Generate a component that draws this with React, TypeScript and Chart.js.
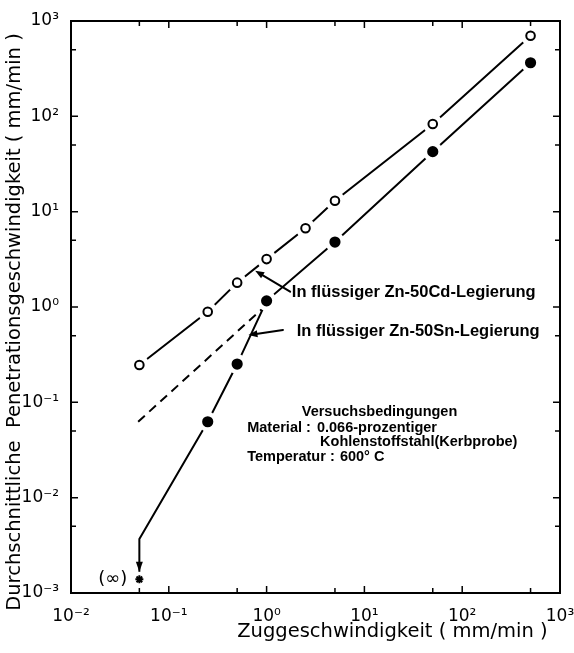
import React, { useEffect, useRef } from "react";
import { Chart, registerables } from "chart.js";

Chart.register(...registerables);

// ---------- axis ticks ----------
const xTickValues = [0.01, 0.05, 0.1, 0.5, 1, 5, 10, 50, 100, 500, 1000];
const xTickLabels = ["10⁻²", "", "10⁻¹", "", "10⁰", "", "10¹", "", "10²", "", "10³"];
const yTickValues = [0.001, 0.005, 0.01, 0.05, 0.1, 0.5, 1, 5, 10, 50, 100, 500, 1000];
const yTickLabels = ["10⁻³", "", "10⁻²", "", "10⁻¹", "", "10⁰", "", "10¹", "", "10²", "", "10³"];

// ---------- series ----------
// Zn-50Cd (open circles)
const cdSpeed = [0.05, 0.25, 0.5, 1, 2.5, 5, 50, 500];
const cdRate = [0.246, 0.89, 1.8, 3.18, 6.7, 13, 83, 700];
// Zn-50Sn (filled circles)
const snSpeed = [0.25, 0.5, 1, 5, 50, 500];
const snRate = [0.0626, 0.252, 1.16, 4.8, 42.6, 365];
// Sn curve tail going down to the (infinity) point: arrow end, kink
const snTailSpeed = [0.05, 0.05];
const snTailRate = [0.00167, 0.00368];
// dashed extrapolation of the Sn curve
const snExtrapSpeed = [0.0486, 0.92];
const snExtrapRate = [0.0626, 0.975];
// (infinity) point
const infSpeed = [0.05];
const infRate = [0.00139];

// ---------- annotations (data coordinates) ----------
const labelTexts = ["In flüssiger Zn-50Cd-Legierung", "In flüssiger Zn-50Sn-Legierung"];
const labelX = [1.81, 2.03];
const labelY = [1.41, 0.56];
const arrowFromX = [1.74, 1.47];
const arrowFromY = [1.45, 0.574];
const arrowToX = [0.764, 0.652];
const arrowToY = [2.4, 0.508];

const noteTexts = [
  "Versuchsbedingungen",
  "Material :",
  "0.066-prozentiger",
  "Kohlenstoffstahl(Kerbprobe)",
  "Temperatur :",
  "600° C",
];
const noteX = [2.29, 0.633, 3.27, 3.52, 0.633, 5.62];
const noteY = [0.0798, 0.0538, 0.0538, 0.0386, 0.0269, 0.0269];

const infText = "(∞)";
const infTextX = 0.0377;

const yTitle = "Durchschnittliche  Penetrationsgeschwindigkeit ( mm/min )";
const xTitle = "Zuggeschwindigkeit ( mm/min )  ";

const pts = (xs: number[], ys: number[]) => xs.map((x, i) => ({ x, y: ys[i] }));

function arrowHead(ctx: CanvasRenderingContext2D, x1: number, y1: number, x2: number, y2: number, len = 9, half = 3.5) {
  const a = Math.atan2(y2 - y1, x2 - x1);
  const bx = x2 - len * Math.cos(a);
  const by = y2 - len * Math.sin(a);
  ctx.beginPath();
  ctx.moveTo(x2, y2);
  ctx.lineTo(bx - half * Math.sin(a), by + half * Math.cos(a));
  ctx.lineTo(bx + half * Math.sin(a), by - half * Math.cos(a));
  ctx.closePath();
  ctx.fill();
}

const decorPlugin = {
  id: "decor",
  afterDatasetsDraw(chart: any) {
    const { ctx, scales } = chart;
    const sx = scales.x;
    const sy = scales.y;
    ctx.save();
    ctx.strokeStyle = "#000";
    ctx.fillStyle = "#000";
    ctx.lineWidth = 2;
    ctx.lineCap = "round";

    // label arrows
    for (let i = 0; i < arrowFromX.length; i++) {
      const x1 = sx.getPixelForValue(arrowFromX[i]);
      const y1 = sy.getPixelForValue(arrowFromY[i]);
      const x2 = sx.getPixelForValue(arrowToX[i]);
      const y2 = sy.getPixelForValue(arrowToY[i]);
      const a = Math.atan2(y2 - y1, x2 - x1);
      ctx.beginPath();
      ctx.moveTo(x1, y1);
      ctx.lineTo(x2 - 6 * Math.cos(a), y2 - 6 * Math.sin(a));
      ctx.stroke();
      arrowHead(ctx, x1, y1, x2, y2);
    }

    // downward arrow head of Sn tail
    {
      const x2 = sx.getPixelForValue(snTailSpeed[0]);
      const y2 = sy.getPixelForValue(snTailRate[0]);
      arrowHead(ctx, x2, y2 - 20, x2, y2, 10, 3.5);
    }

    // labels
    ctx.textBaseline = "middle";
    ctx.textAlign = "left";
    ctx.font = "bold 16.5px 'Liberation Sans', Arial, sans-serif";
    for (let i = 0; i < labelTexts.length; i++) {
      ctx.fillText(labelTexts[i], sx.getPixelForValue(labelX[i]), sy.getPixelForValue(labelY[i]));
    }
    ctx.font = "bold 14.5px 'Liberation Sans', Arial, sans-serif";
    for (let i = 0; i < noteTexts.length; i++) {
      ctx.fillText(noteTexts[i], sx.getPixelForValue(noteX[i]), sy.getPixelForValue(noteY[i]));
    }
    // (infinity)
    ctx.textAlign = "right";
    ctx.font = "18px 'DejaVu Sans', sans-serif";
    ctx.fillText(infText, sx.getPixelForValue(infTextX), sy.getPixelForValue(infRate[0]));
    ctx.restore();
  },
  afterDraw(chart: any) {
    const { ctx, chartArea: a, scales } = chart;
    const sx = scales.x;
    const sy = scales.y;
    ctx.save();
    ctx.strokeStyle = "#000";
    ctx.lineWidth = 2;
    ctx.strokeRect(a.left, a.top, a.right - a.left, a.bottom - a.top);
    ctx.lineWidth = 1.5;
    ctx.beginPath();
    xTickValues.forEach((v, i) => {
      if (i === 0 || i === xTickValues.length - 1) return;
      const L = xTickLabels[i] ? 7 : 5;
      const p = sx.getPixelForValue(v);
      ctx.moveTo(p, a.bottom);
      ctx.lineTo(p, a.bottom - L);
      ctx.moveTo(p, a.top);
      ctx.lineTo(p, a.top + L);
    });
    yTickValues.forEach((v, i) => {
      if (i === 0 || i === yTickValues.length - 1) return;
      const L = yTickLabels[i] ? 7 : 5;
      const p = sy.getPixelForValue(v);
      ctx.moveTo(a.left, p);
      ctx.lineTo(a.left + L, p);
      ctx.moveTo(a.right, p);
      ctx.lineTo(a.right - L, p);
    });
    ctx.stroke();

    // y axis title (rotated)
    ctx.fillStyle = "#000";
    ctx.font = "19.5px 'DejaVu Sans', sans-serif";
    ctx.textAlign = "center";
    ctx.textBaseline = "middle";
    ctx.translate(14.5, 322);
    ctx.rotate(-Math.PI / 2);
    ctx.fillText(yTitle, 0, 0);
    ctx.restore();
  },
};

export default function App() {
  const ref = useRef<HTMLCanvasElement>(null);
  useEffect(() => {
    document.body.style.margin = "0";
    const canvas = ref.current!;
    const tickFont = { family: "'DejaVu Sans', sans-serif", size: 17 };
    const chart = new Chart(canvas, {
      type: "line",
      data: {
        datasets: [
          {
            label: "Zn-50Cd",
            data: pts(cdSpeed, cdRate),
            showLine: false,
            pointRadius: 4.3,
            pointBorderWidth: 2,
            pointBackgroundColor: "#fff",
            pointBorderColor: "#000",
          },
          {
            label: "Zn-50Sn",
            data: pts(snSpeed, snRate),
            showLine: false,
            pointRadius: 4.6,
            pointBorderWidth: 2,
            pointBackgroundColor: "#000",
            pointBorderColor: "#000",
          },
          {
            label: "infinity",
            data: pts(infSpeed, infRate),
            showLine: false,
            pointStyle: "star",
            pointRadius: 4,
            pointBorderWidth: 2,
            pointBorderColor: "#000",
          },
          {
            label: "halo",
            data: [...pts(cdSpeed, cdRate), ...pts(snSpeed, snRate)],
            showLine: false,
            pointRadius: 10,
            pointBorderWidth: 0,
            pointBackgroundColor: "#fff",
            pointBorderColor: "#fff",
          },
          {
            label: "Cd line",
            data: pts(cdSpeed, cdRate),
            borderColor: "#000",
            borderWidth: 2,
            pointRadius: 0,
            fill: false,
          },
          {
            label: "Sn line",
            data: [...pts(snTailSpeed, snTailRate), ...pts(snSpeed, snRate)],
            borderColor: "#000",
            borderWidth: 2,
            pointRadius: 0,
            fill: false,
          },
          {
            label: "Sn extrapolation",
            data: pts(snExtrapSpeed, snExtrapRate),
            borderColor: "#000",
            borderWidth: 2,
            borderDash: [9, 6],
            pointRadius: 0,
            fill: false,
          },
        ],
      },
      options: {
        responsive: false,
        animation: false,
        events: [],
        layout: { padding: { left: 0, top: 21, right: 14, bottom: 0 } },
        plugins: { legend: { display: false }, tooltip: { enabled: false } },
        scales: {
          x: {
            type: "logarithmic",
            position: "bottom",
            min: 0.01,
            max: 1000,
            afterBuildTicks: (s: any) => {
              s.ticks = xTickValues.map((v) => ({ value: v }));
            },
            afterFit: (s: any) => {
              s.height = 60;
              s.paddingLeft = 0;
              s.paddingRight = 0;
            },
            ticks: {
              callback: (_v: any, i: number) => xTickLabels[i] ?? "",
              autoSkip: false,
              maxRotation: 0,
              minRotation: 0,
              padding: 5,
              color: "#000",
              font: tickFont,
            },
            grid: { display: false },
            border: { display: false },
            title: {
              display: true,
              text: xTitle,
              align: "end",
              color: "#000",
              font: { family: "'DejaVu Sans', sans-serif", size: 19.5 },
              padding: { top: 0, bottom: 9 },
            },
          },
          y: {
            type: "logarithmic",
            position: "left",
            min: 0.001,
            max: 1000,
            afterBuildTicks: (s: any) => {
              s.ticks = yTickValues.map((v) => ({ value: v }));
            },
            afterFit: (s: any) => {
              s.width = 71;
              s.paddingTop = 0;
              s.paddingBottom = 0;
            },
            ticks: {
              callback: (_v: any, i: number) => yTickLabels[i] ?? "",
              autoSkip: false,
              padding: 4,
              color: "#000",
              font: tickFont,
            },
            grid: { display: false },
            border: { display: false },
          },
        },
      },
      plugins: [decorPlugin],
    } as any);
    return () => chart.destroy();
  }, []);
  return (
    <div style={{ width: 574, height: 653, background: "#fff" }}>
      <canvas ref={ref} width={574} height={653} style={{ display: "block" }} />
    </div>
  );
}
